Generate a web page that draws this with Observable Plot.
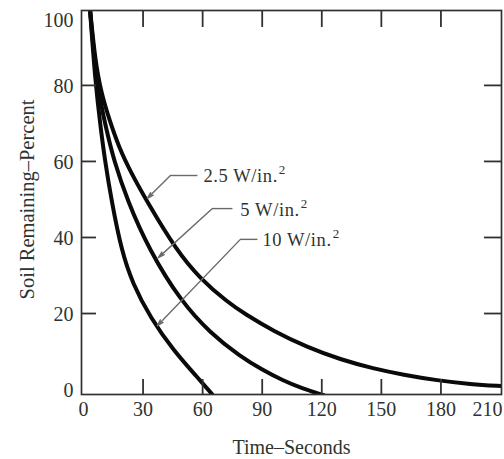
<!DOCTYPE html>
<html><head><meta charset="utf-8">
<script src="https://cdn.jsdelivr.net/npm/d3@7"></script>
<script src="https://cdn.jsdelivr.net/npm/@observablehq/plot@0.6"></script>
<style>body{margin:0;background:#fff} svg{display:block}</style>
</head><body><div id="chart"></div>
<script>
// Tick values
const xTickLabels = [0, 30, 60, 90, 120, 150, 180, 210];
const xTickMarks = [30, 60, 90, 120, 150, 180];
const yTickLabels = [0, 20, 40, 60, 80, 100];
const yTickMarks = [20, 40, 60, 80];

// Series (time in seconds, soil remaining in percent)
const seriesNames = ["2.5 W/in.²", "5 W/in.²", "10 W/in.²"];
const time25 = [3.2, 6.0, 9.0, 13.0, 18.0, 24.0, 31.7, 46.8, 58.9, 72.5, 81.5, 95.6, 112.7, 129.4, 146.0, 161.0, 178.2, 194.8, 210.9];
const soil25 = [100.5, 86.0, 78.0, 71.0, 63.5, 57.0, 49.7, 36.6, 29.1, 23.0, 19.8, 15.4, 11.1, 7.9, 5.5, 3.9, 2.4, 1.4, 0.9];
const time5 = [3.2, 6.5, 11.6, 15.3, 22.1, 33.2, 48.8, 63.9, 79.0, 90.0, 100.0, 110.0, 121.0];
const soil5 = [100.5, 80.5, 68.2, 60.3, 49.7, 36.6, 23.4, 14.8, 8.7, 5.2, 2.5, 0.3, -1.5];
const time10 = [3.2, 6.0, 8.8, 10.8, 14.1, 19.1, 24.7, 33.7, 45.3, 57.4, 64.9];
const soil10 = [100.5, 80.5, 68.2, 60.3, 49.7, 36.6, 27.9, 18.9, 10.3, 3.2, -1.3];

// Callout anchors (data units)
const labelT = [60.4, 79.0, 90.1];
const labelV = [56.3, 47.6, 39.5];
const elbowT = [43.8, 64.9, 79.0];
const leaderEndT = [57.4, 75.0, 87.6];
const tipT = [32.2, 37.7, 37.2];
const tipV = [50.3, 34.7, 16.8];

const times = [time25, time5, time10];
const soils = [soil25, soil5, soil10];
const curves = seriesNames.flatMap((s, i) => times[i].map((t, j) => ({series: s, t, v: soils[i][j]})));
const notes = seriesNames.map((s, i) => ({label: s, lt: labelT[i], lv: labelV[i], et: elbowT[i], ht: leaderEndT[i], tt: tipT[i], tv: tipV[i]}));

const ink = "#2f332f";
const font = "Liberation Serif";

const chart = Plot.plot({
  width: 504,
  height: 459,
  marginLeft: 81,
  marginRight: 3,
  marginTop: 10,
  marginBottom: 65,
  style: {fontFamily: font, background: "#fff", color: ink},
  x: {domain: [-1, 210.5], label: null},
  y: {domain: [-1.3, 99.7], label: null},
  marks: [
    Plot.line(curves, {x: "t", y: "v", z: "series", stroke: "#0a0a0a", strokeWidth: 4, curve: "basis", clip: true}),
    Plot.frame({stroke: ink, strokeWidth: 1.7}),
    Plot.axisX({anchor: "bottom", ticks: xTickMarks, tickSize: -15, strokeWidth: 1.8, stroke: ink, tickFormat: () => ""}),
    Plot.axisX({anchor: "top", ticks: xTickMarks, tickSize: -16, strokeWidth: 1.8, stroke: ink, tickFormat: () => ""}),
    Plot.axisY({anchor: "left", ticks: yTickMarks, tickSize: -15, strokeWidth: 1.8, stroke: ink, tickFormat: () => ""}),
    Plot.axisY({anchor: "right", ticks: yTickMarks, tickSize: -18, strokeWidth: 1.8, stroke: ink, tickFormat: () => ""}),
    Plot.axisX({anchor: "bottom", ticks: xTickLabels.slice(0, -1), tickSize: 0, tickPadding: 7, fontSize: 20, fill: ink}),
    Plot.text(xTickLabels.slice(-1), {x: d => d, frameAnchor: "bottom", lineAnchor: "top", textAnchor: "end", dx: 2, dy: 7, fontSize: 20, fill: ink}),
    Plot.axisY({anchor: "left", ticks: yTickLabels.slice(0, -1), tickSize: 0, tickPadding: 8, dy: 1.5, fontSize: 20, fill: ink}),
    Plot.text(yTickLabels.slice(-1), {y: d => d, frameAnchor: "left", lineAnchor: "top", textAnchor: "end", dx: -8, dy: 3, fontSize: 20, fill: ink}),
    Plot.text(["Time–Seconds"], {frameAnchor: "bottom", lineAnchor: "middle", textAnchor: "middle", dy: 53, fontSize: 20, fill: ink}),
    Plot.text(["Soil Remaining–Percent"], {frameAnchor: "left", textAnchor: "middle", lineAnchor: "middle", dx: -54, dy: -3, rotate: -90, fontSize: 20.5, fill: ink}),
    Plot.link(notes, {x1: "et", x2: "ht", y1: "lv", y2: "lv", stroke: "#6a6a6a", strokeWidth: 1.4}),
    Plot.arrow(notes, {x1: "et", y1: "lv", x2: "tt", y2: "tv", stroke: "#6a6a6a", strokeWidth: 1.4, headLength: 7, headAngle: 32, insetEnd: 0}),
    Plot.text(notes, {x: "lt", y: "lv", text: "label", textAnchor: "start", dy: 1, fontSize: 18.5, fill: ink})
  ]
});

// Render the trailing "²" of each callout as a raised superscript
d3.select(chart).selectAll("text")
  .filter(function () { return this.childElementCount === 0 && this.textContent.endsWith("²"); })
  .each(function () {
    const full = this.textContent;
    const el = d3.select(this).text(null).attr("letter-spacing", 0.6);
    el.append("tspan").text(full.slice(0, -1));
    el.append("tspan").attr("font-size", 13).attr("dy", -8).attr("dx", 1).text("2");
  });

document.getElementById("chart").append(chart);
</script>
</body></html>
